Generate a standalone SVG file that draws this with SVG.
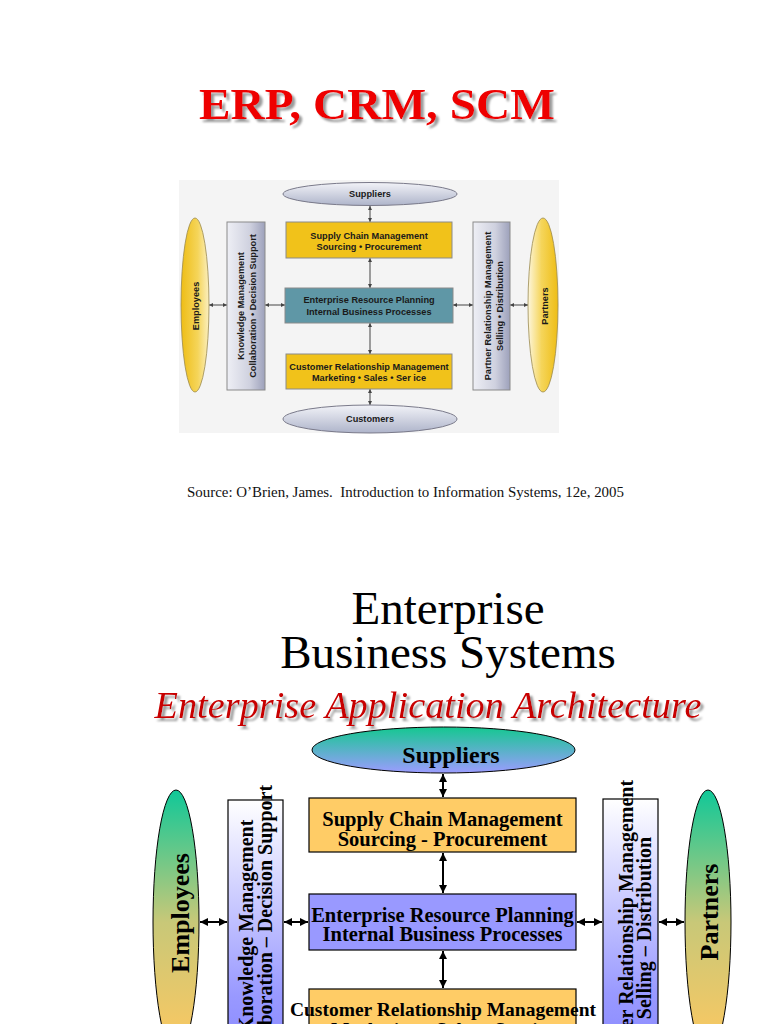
<svg xmlns="http://www.w3.org/2000/svg" width="768" height="1024" viewBox="0 0 768 1024">
<defs>
<style>
.ttl{font-family:"Liberation Serif","Times New Roman",serif;font-weight:bold;}
.s{font-family:"Liberation Sans",Arial,sans-serif;font-weight:bold;font-size:9.2px;fill:#1a1a1a;text-anchor:middle;}
.b{font-family:"Liberation Serif","Times New Roman",serif;font-weight:bold;fill:#000;text-anchor:middle;}
.tbox{stroke:#8a8a8a;stroke-width:1;}
.bbox{stroke:#000;stroke-width:1.2;}
.tc{stroke:#444;stroke-width:1;fill:none;marker-start:url(#ta);marker-end:url(#ta);}
.bc{stroke:#000;stroke-width:2;fill:none;marker-start:url(#ba);marker-end:url(#ba);}
</style>
<marker id="ta" viewBox="0 0 10 10" refX="10" refY="5" markerWidth="5" markerHeight="4" markerUnits="userSpaceOnUse" orient="auto-start-reverse"><path d="M0,0 L10,5 L0,10 z" fill="#444"/></marker>
<marker id="ba" viewBox="0 0 10 10" refX="10" refY="5" markerWidth="8" markerHeight="8" markerUnits="userSpaceOnUse" orient="auto-start-reverse"><path d="M0,0 L10,5 L0,10 z" fill="#000"/></marker>
<filter id="sh" x="-5%" y="-20%" width="115%" height="160%">
<feGaussianBlur in="SourceAlpha" stdDeviation="1.2"/>
<feOffset dx="3" dy="3" result="o"/>
<feFlood flood-color="#9a9a9a"/>
<feComposite in2="o" operator="in" result="s"/>
<feMerge><feMergeNode in="s"/><feMergeNode in="SourceGraphic"/></feMerge>
</filter>
<linearGradient id="tEll" x1="0" y1="0" x2="0" y2="1"><stop offset="0" stop-color="#f2f3f8"/><stop offset="1" stop-color="#aeb4ca"/></linearGradient>
<linearGradient id="tEmp" x1="0" y1="0" x2="1" y2="0"><stop offset="0" stop-color="#eebd15"/><stop offset="0.6" stop-color="#f5d55a"/><stop offset="1" stop-color="#fbefc0"/></linearGradient>
<linearGradient id="tPar" x1="0" y1="0" x2="1" y2="0"><stop offset="0" stop-color="#fdf6dc"/><stop offset="0.45" stop-color="#f5d55a"/><stop offset="1" stop-color="#eebd15"/></linearGradient>
<linearGradient id="tSide" x1="0" y1="0" x2="1" y2="0"><stop offset="0" stop-color="#eeeff5"/><stop offset="0.6" stop-color="#cfd1df"/><stop offset="1" stop-color="#9da1bb"/></linearGradient>
<linearGradient id="bEll" x1="0" y1="0" x2="0" y2="1"><stop offset="0" stop-color="#14c890"/><stop offset="1" stop-color="#9c9cff"/></linearGradient>
<linearGradient id="bEmp" x1="0" y1="0" x2="0" y2="1"><stop offset="0" stop-color="#10c898"/><stop offset="0.5" stop-color="#c8c878"/><stop offset="1" stop-color="#ffc860"/></linearGradient>
<linearGradient id="bSide" x1="0" y1="0" x2="0" y2="1"><stop offset="0" stop-color="#ffffff"/><stop offset="0.75" stop-color="#9999ff"/><stop offset="1" stop-color="#8888ff"/></linearGradient>
</defs>
<rect width="768" height="1024" fill="#fff"/>

<text class="ttl" x="377" y="119" font-size="45" fill="#ee0000" text-anchor="middle" textLength="356" lengthAdjust="spacingAndGlyphs" filter="url(#sh)">ERP, CRM, SCM</text>

<rect x="179" y="180" width="380" height="253" fill="#f4f4f4"/>

<g id="connectors-top">
<line class="tc" x1="370" y1="206" x2="370" y2="222"/>
<line class="tc" x1="370" y1="258" x2="370" y2="288"/>
<line class="tc" x1="370" y1="323" x2="370" y2="354"/>
<line class="tc" x1="370" y1="389" x2="370" y2="405"/>
<line class="tc" x1="209" y1="305" x2="227" y2="305"/>
<line class="tc" x1="265" y1="305" x2="285" y2="305"/>
<line class="tc" x1="453" y1="305" x2="473" y2="305"/>
<line class="tc" x1="510" y1="305" x2="528" y2="305"/>
</g>

<g id="t-suppliers"><ellipse cx="370" cy="194" rx="87" ry="11.5" fill="url(#tEll)" stroke="#7a7a8a"/><text class="s" x="370" y="197">Suppliers</text></g>
<g id="t-scm"><rect class="tbox" x="286" y="222" width="166" height="36" fill="#f1c21a"/><text class="s" x="369" y="239">Supply Chain Management</text><text class="s" x="369" y="250">Sourcing • Procurement</text></g>
<g id="t-erp"><rect class="tbox" x="285" y="288" width="168" height="35" fill="#5f97a6"/><text class="s" x="369" y="303">Enterprise Resource Planning</text><text class="s" x="369" y="315">Internal Business Processes</text></g>
<g id="t-crm"><rect class="tbox" x="286" y="354" width="166" height="35" fill="#f1c21a"/><text class="s" x="369" y="370">Customer Relationship Management</text><text class="s" x="369" y="381">Marketing • Sales • Ser ice</text></g>
<g id="t-customers"><ellipse cx="370" cy="419" rx="87" ry="14" fill="url(#tEll)" stroke="#7a7a8a"/><text class="s" x="370" y="422">Customers</text></g>
<g id="t-employees"><ellipse cx="195" cy="305" rx="14" ry="87" fill="url(#tEmp)" stroke="#9a8a50" stroke-width="0.8"/><text class="s" transform="translate(198.5,306) rotate(-90)">Employees</text></g>
<g id="t-km"><rect class="tbox" x="227" y="222" width="38" height="168" fill="url(#tSide)"/><text class="s" transform="translate(244,306) rotate(-90)">Knowledge Management</text><text class="s" transform="translate(256,306) rotate(-90)">Collaboration • Decision Support</text></g>
<g id="t-prm"><rect class="tbox" x="473" y="222" width="37" height="168" fill="url(#tSide)"/><text class="s" transform="translate(491,306) rotate(-90)">Partner Relationship Management</text><text class="s" transform="translate(503,306) rotate(-90)">Selling • Distribution</text></g>
<g id="t-partners"><ellipse cx="543" cy="305" rx="15" ry="87" fill="url(#tPar)" stroke="#9a8a50" stroke-width="0.8"/><text class="s" transform="translate(547.5,306) rotate(-90)">Partners</text></g>

<text x="187" y="497" xml:space="preserve" font-family="Liberation Serif,Times New Roman,serif" font-size="14" fill="#111" textLength="437" lengthAdjust="spacingAndGlyphs">Source: O’Brien, James.  Introduction to Information Systems, 12e, 2005</text>

<text x="448" y="624" font-family="Liberation Serif,Times New Roman,serif" font-size="47" fill="#000" text-anchor="middle">Enterprise</text>
<text x="448" y="668" font-family="Liberation Serif,Times New Roman,serif" font-size="47" fill="#000" text-anchor="middle">Business Systems</text>
<text x="428" y="718" font-family="Liberation Serif,Times New Roman,serif" font-style="italic" font-size="38" fill="#c80000" text-anchor="middle" textLength="547" lengthAdjust="spacingAndGlyphs" filter="url(#sh)">Enterprise Application Architecture</text>

<g id="connectors-bottom">
<line class="bc" x1="443" y1="774" x2="443" y2="797"/>
<line class="bc" x1="443" y1="853" x2="443" y2="893"/>
<line class="bc" x1="443" y1="951" x2="443" y2="988"/>
<line class="bc" x1="200" y1="922" x2="227" y2="922"/>
<line class="bc" x1="284" y1="922" x2="308" y2="922"/>
<line class="bc" x1="577" y1="922" x2="602" y2="922"/>
<line class="bc" x1="659" y1="922" x2="684" y2="922"/>
</g>

<g id="b-suppliers"><ellipse cx="443.5" cy="750" rx="131.5" ry="23" fill="url(#bEll)" stroke="#000" stroke-width="1"/><text class="b" x="451" y="763" font-size="24">Suppliers</text></g>
<g id="b-scm"><rect class="bbox" x="309" y="798" width="267" height="54" fill="#ffcc66"/><text class="b" x="442.5" y="826" font-size="20.5">Supply Chain Management</text><text class="b" x="442.5" y="846" font-size="20.5">Sourcing - Procurement</text></g>
<g id="b-erp"><rect class="bbox" x="309" y="894" width="267" height="56" fill="#9999ff"/><text class="b" x="442.5" y="922" font-size="20.5">Enterprise Resource Planning</text><text class="b" x="442.5" y="941" font-size="20.5">Internal Business Processes</text></g>
<g id="b-crm"><rect class="bbox" x="309" y="989" width="267" height="60" fill="#ffcc66"/><text class="b" x="443" y="1016" font-size="19.5">Customer Relationship Management</text><text class="b" x="443" y="1036" font-size="19.5">Marketing - Sales - Service</text></g>
<g id="b-employees"><ellipse cx="176" cy="922" rx="23" ry="132" fill="url(#bEmp)" stroke="#000" stroke-width="1"/><text class="b" font-size="26" transform="translate(189,913) rotate(-90)">Employees</text></g>
<g id="b-km"><rect class="bbox" x="228" y="800" width="55" height="260" fill="url(#bSide)"/><text class="b" font-size="20" transform="translate(253,926) rotate(-90)">Knowledge Management</text><text class="b" font-size="20" transform="translate(272,928) rotate(-90)">Collaboration – Decision Support</text></g>
<g id="b-prm"><rect class="bbox" x="603" y="799" width="55" height="260" fill="url(#bSide)"/><text class="b" font-size="20" transform="translate(633,928) rotate(-90)">Partner Relationship Management</text><text class="b" font-size="20" transform="translate(651,928) rotate(-90)">Selling – Distribution</text></g>
<g id="b-partners"><ellipse cx="708" cy="922" rx="23" ry="132" fill="url(#bEmp)" stroke="#000" stroke-width="1"/><text class="b" font-size="26" transform="translate(718,912) rotate(-90)">Partners</text></g>
</svg>
